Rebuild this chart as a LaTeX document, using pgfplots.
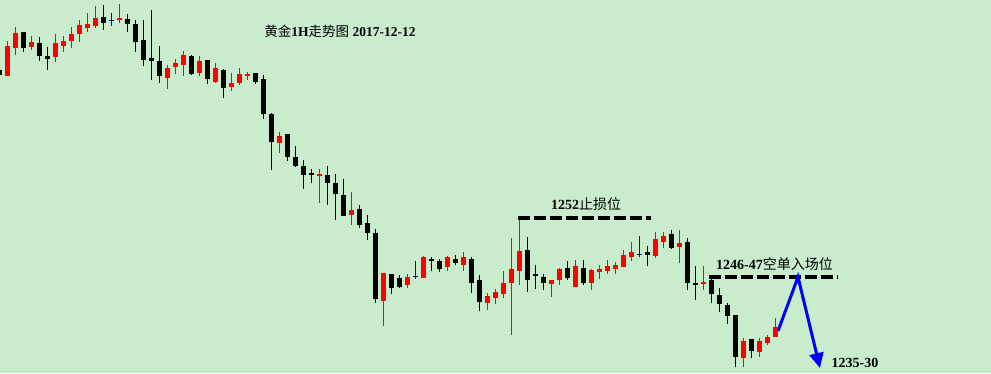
\documentclass[border=0pt]{standalone}
\usepackage{pgfplots}
\pgfplotsset{compat=1.18}
\usepackage{pgfplotstable}
\usepackage{fontspec}
\setmainfont{Liberation Serif}
\newfontfamily\cjk{Noto Sans CJK SC}
\usetikzlibrary{arrows.meta}
\definecolor{bgc}{RGB}{200,236,204}

% k = candle index (x = 7.5 + 8k px); bt/bb = body top/bottom, h/l = high/low (pixel rows)
\pgfplotstableread{
k bt bb h l
0 46 76 41 76
1 33 48 27 55
3 42 47 36 50
6 43 57 34 62
7 41 46 36 52
8 34 41 27 48
9 25 34 20 42
10 24 28 13 32
11 18 26 6 28
14 18 20 4 23
20 68 78 65 89
21 63 67 59 74
22 55 65 51 76
24 61 73 56 76
26 68 82 63 83
28 83 87 73 91
29 74 83 68 85
30 74 76 72 80
34 136 143 132 153
39 174 176 169 203
43 210 215 192 225
47 273 301 273 326
50 277 285 274 288
52 257 278 256 278
55 257 267 256 271
57 257 265 252 271
60 296 303 293 310
61 292 298 289 304
62 283 294 271 298
63 269 283 238 335
64 251 271 220 285
68 280 284 280 297
69 269 280 268 285
71 266 287 260 287
73 270 283 269 290
74 269 272 265 279
75 266 271 260 274
76 265 269 262 274
77 255 267 250 267
78 252 257 242 261
81 239 256 232 258
82 236 242 232 248
84 243 247 230 263
87 282 284 266 290
92 341 358 338 367
94 341 352 338 357
95 337 343 335 345
96 327 337 318 337
}\redtab

\pgfplotstableread{
k bt bb h l
-1 70 75 70 75
2 32 48 32 52
4 43 56 37 61
5 56 59 47 70
12 17 23 5 30
15 19 24 14 32
16 24 42 20 52
17 40 60 20 66
18 58 61 10 80
19 61 76 46 83
23 56 74 55 75
25 60 79 60 84
27 70 88 69 98
31 73 82 73 84
32 79 114 75 119
33 114 142 113 170
35 134 157 134 161
36 157 166 146 167
37 166 175 160 189
38 173 175 169 183
40 175 183 166 205
41 183 194 174 220
42 195 216 179 216
44 209 225 205 228
45 223 233 215 240
46 233 299 229 303
48 274 288 274 294
49 278 287 275 288
53 259 261 257 271
54 261 269 259 272
56 259 263 255 265
58 259 283 257 293
59 280 302 275 311
65 250 280 237 292
66 274 276 265 289
67 277 283 274 290
70 268 278 261 280
72 268 283 260 285
80 252 255 246 266
83 234 248 230 249
85 242 283 238 290
86 283 285 266 300
88 280 294 277 303
89 295 304 288 312
90 305 316 303 324
91 315 357 315 367
93 339 351 339 358
}\blacktab

\pgfplotstableread{
k bt bb h l
13 20 20 13 26
51 276 276 261 279
79 254 254 236 257
}\bluetab

\pgfplotsset{
  wick/.style={draw=none, mark=none, forget plot,
    error bars/.cd, y dir=plus, y explicit, error mark=none,
    error bar style={draw=#1, line width=1pt}},
  body/.style={draw=none, mark=none, forget plot,
    error bars/.cd, y dir=plus, y explicit, error mark=none,
    error bar style={draw=#1, line width=5pt}},
}

\begin{document}
\begin{tikzpicture}
\begin{axis}[
  scale only axis, width=991pt, height=373pt,
  xmin=0, xmax=991, ymin=0, ymax=373, y dir=reverse,
  axis lines=none, xtick=\empty, ytick=\empty,
  axis background/.style={fill=bgc},
]
\addplot[wick=red] table[x expr=7.5+8*\thisrow{k}, y=h,
   y error plus expr=\thisrow{l}-\thisrow{h}, y error minus expr=0] {\redtab};
\addplot[body=red] table[x expr=7.5+8*\thisrow{k}, y=bt,
   y error plus expr={max(\thisrow{bb}-\thisrow{bt},1.3)}, y error minus expr=0] {\redtab};
\addplot[wick=black] table[x expr=7.5+8*\thisrow{k}, y=h,
   y error plus expr=\thisrow{l}-\thisrow{h}, y error minus expr=0] {\blacktab};
\addplot[body=black] table[x expr=7.5+8*\thisrow{k}, y=bt,
   y error plus expr={max(\thisrow{bb}-\thisrow{bt},1.3)}, y error minus expr=0] {\blacktab};
\addplot[wick=blue] table[x expr=7.5+8*\thisrow{k}, y=h,
   y error plus expr=\thisrow{l}-\thisrow{h}, y error minus expr=0] {\bluetab};
\addplot[body=blue] table[x expr=7.5+8*\thisrow{k}, y=bt,
   y error plus expr={max(\thisrow{bb}-\thisrow{bt},1.3)}, y error minus expr=0] {\bluetab};
% dashed levels
\addplot[black, line width=3.6pt, dash pattern=on 12pt off 4pt] coordinates {(518,218) (651,218)};
\addplot[black, line width=4pt, dash pattern=on 12pt off 4pt] coordinates {(709,277) (838,277)};
% projected path
\addplot[blue, line width=3pt, -{Triangle[length=15pt 0 0, width=14pt 0 0]}] coordinates {(778,331) (798,277) (820,368)};
\node[font=\fontsize{13.5}{14}\selectfont] at (axis cs:340,31) {{\cjk 黄金}\textbf{1H}{\cjk 走势图} \textbf{2017-12-12}};
\node[font=\fontsize{14}{15}\selectfont] at (axis cs:586,204) {\textbf{1252}{\cjk 止损位}};
\node[font=\fontsize{14}{15}\selectfont] at (axis cs:774.5,264) {\textbf{1246-47}{\cjk 空单入场位}};
\node[font=\fontsize{14}{15}\selectfont] at (axis cs:855,363) {\textbf{1235-30}};
\end{axis}
\end{tikzpicture}
\end{document}
